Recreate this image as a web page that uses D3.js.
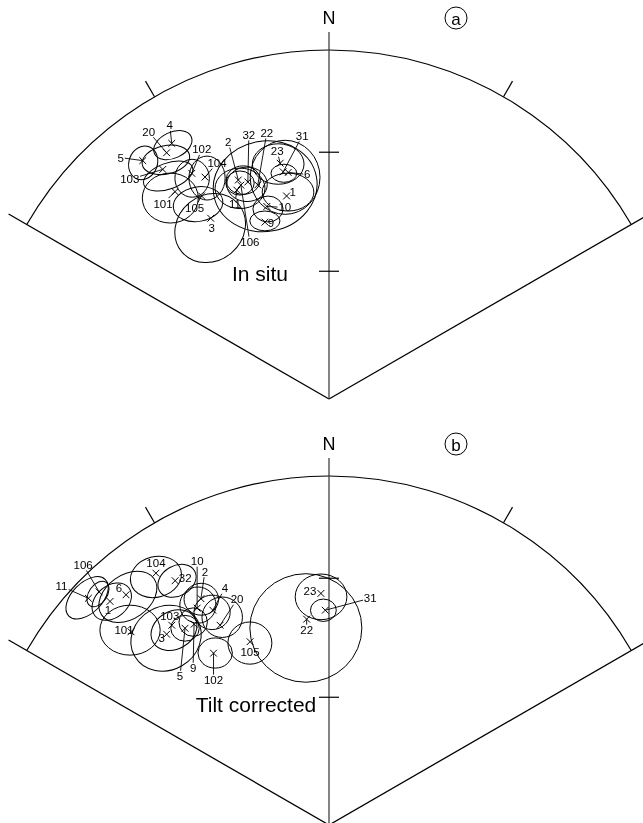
<!DOCTYPE html>
<html>
<head>
<meta charset="utf-8">
<script src="https://cdn.jsdelivr.net/npm/d3@7"></script>
<style>
  body { margin: 0; background: #fff; }
  svg { display: block; font-family: "Liberation Sans", Arial, sans-serif; will-change: transform; }
</style>
</head>
<body>
<div id="chart"></div>
<script>
// site ids (same order in both panels)
const sites = ["1","2","3","4","5","6","9","10","11","20","22","23","31","32","101","102","103","104","105","106"];

// (a) in situ site means: declination / inclination
const decA = [348.2,337.5,326.8,328.4,322.0,349.8,340.1,342.1,336.2,326.6,341.6,348.3,348.6,339.5,323.4,328.7,324.1,330.8,327.9,337.6];
const incA = [40.3,32.6,38.1,15.1,14.4,34.4,45.2,41.6,34.9,16.6,35.6,31.6,34.0,34.0,26.9,25.3,19.9,28.0,31.9,34.1];
// (a) confidence ellipses: centre dec / inc, semi-axes (deg), tilt (deg)
const ellDecA = [348.8,337.6,325.2,328.4,321.8,348.8,340.2,342.2,337.1,325.7,339.1,347.8,348.7,338.6,321.7,328.2,324.2,331.1,326.1,343.3];
const ellIncA = [39.4,33.5,40.1,15.7,15.0,35.5,44.9,42.3,34.8,18.2,34.5,31.7,34.4,33.1,27.5,26.5,22.3,28.5,33.2,36.5];
const ellMajA = [6.0,3.3,8.6,4.7,3.3,8.1,3.5,3.5,5.8,5.6,4.7,6.0,3.0,4.0,6.5,4.0,6.0,4.2,5.8,12.1];
const ellMinA = [4.4,2.8,7.6,3.0,4.0,8.6,2.3,3.0,4.7,3.3,4.0,4.7,2.1,3.3,5.8,4.4,3.0,5.1,4.0,10.5];
const ellTiltA = [0,0,-40,-25,20,0,0,0,0,-12,0,0,0,0,0,0,-20,0,-10,-10];

// (b) tilt corrected site means
const decB = [315.6,330.5,319.6,331.6,323.8,318.6,326.1,328.7,313.3,331.4,353.8,358.0,359.0,327.8,314.3,326.1,321.8,325.5,336.7,315.4];
const incB = [11.3,26.4,29.0,30.7,30.8,13.1,31.3,28.1,5.9,35.1,40.4,34.0,38.4,18.4,21.8,40.4,28.0,13.5,42.3,6.9];
const ellDecB = [315.8,330.5,318.9,331.2,323.8,318.6,326.2,329.2,313.2,332.8,353.3,358.0,358.5,328.1,314.4,326.5,321.5,325.1,336.5,315.0];
const ellIncB = [11.7,26.6,29.7,31.1,30.8,13.9,30.7,27.5,5.5,33.5,42.6,34.9,38.4,18.7,21.3,40.6,29.4,14.4,42.6,7.1];
const ellMajB = [5.1,4.0,8.4,4.2,3.3,7.4,3.3,4.2,6.0,4.7,13.0,6.0,3.0,4.7,7.0,4.0,5.6,6.0,5.1,3.3];
const ellMinB = [3.7,3.7,7.4,4.0,3.0,5.1,3.3,4.2,3.5,4.7,12.6,5.3,2.6,3.5,5.8,3.5,4.4,4.7,4.9,2.1];
const ellTiltB = [-40,0,-30,0,0,-35,0,0,-45,0,0,0,0,-30,0,0,-30,-15,0,-55];

// label placement (pixel offsets from the cross)
const labA = [[6,-4],[-10,-38],[1,10],[-2,-18],[-22,-3],[19,2],[6,1],[18,1],[-2,14],[-18,-21],[9,-52],[-3,-12],[19,-36],[1,-47],[-12,12],[10,-24],[-33,10],[12,-14],[-7,12],[9,57]];
const labB = [[-2,9],[4,-27],[-5,4],[12,-22],[-5,48],[-7,-7],[-1,44],[0,-47],[-27,-12],[17,-26],[0,11],[-11,-2],[45,-12],[10,-3],[-7,-2],[0,27],[-2,-9],[0,-10],[0,10],[-16,-27]];

const incTicks = [30, 60];
const decTicks = [330, 30];

const width = 643, height = 823;
const R = 349, cx = 329;

const svg = d3.select("#chart").append("svg")
    .attr("width", width)
    .attr("height", height);

// equal-area projection
const rScale = d3.scaleLinear().domain([0, 1]).range([0, R]);
const aScale = d3.scaleLinear().domain([0, 360]).range([0, 2 * Math.PI]);
const axisScale = d3.scaleLinear().domain([0, 180]).range([0, R * Math.PI / Math.SQRT2]);
const rad = d => d * Math.PI / 180;
function proj(dec, inc) {
    const r = rScale(Math.SQRT2 * Math.sin(rad(90 - inc) / 2));
    return d3.pointRadial(aScale(dec), r);
}

function drawPanel(cy, letter, title, dec, inc, eDec, eInc, eMaj, eMin, eTilt, lab) {
    const g = svg.append("g").attr("transform", "translate(" + cx + "," + cy + ")");

    // sector frame
    const p = d3.path();
    p.arc(0, 0, R, -Math.PI / 2 - Math.PI / 3, -Math.PI / 2 + Math.PI / 3);
    g.append("path").attr("d", p.toString())
        .attr("fill", "none").attr("stroke", "#000").attr("stroke-width", 1.2);
    [-60, 60].forEach(a => {
        const e = d3.pointRadial(aScale(a), R + 21);
        g.append("line").attr("x1", 0).attr("y1", 0).attr("x2", e[0]).attr("y2", e[1])
            .attr("stroke", "#000").attr("stroke-width", 1.3);
    });
    decTicks.forEach(d => {
        const a = d3.pointRadial(aScale(d), R), b = d3.pointRadial(aScale(d), R + 18);
        g.append("line").attr("x1", a[0]).attr("y1", a[1]).attr("x2", b[0]).attr("y2", b[1])
            .attr("stroke", "#000").attr("stroke-width", 1.2);
    });

    // north axis
    g.append("line").attr("x1", 0).attr("y1", 0).attr("x2", 0).attr("y2", -R - 18)
        .attr("stroke", "#333").attr("stroke-width", 1.2);
    incTicks.forEach(t => {
        const y = proj(0, t)[1];
        g.append("line").attr("x1", -10).attr("x2", 10).attr("y1", y).attr("y2", y)
            .attr("stroke", "#000").attr("stroke-width", 1.2);
    });
    g.append("text").attr("x", 0).attr("y", -R - 32).attr("text-anchor", "middle")
        .attr("dominant-baseline", "central").attr("font-size", 18).text("N");

    // panel letter
    g.append("circle").attr("cx", 127).attr("cy", -R - 32).attr("r", 11)
        .attr("fill", "none").attr("stroke", "#000").attr("stroke-width", 1);
    g.append("text").attr("x", 127).attr("y", -R - 31).attr("text-anchor", "middle")
        .attr("dominant-baseline", "central").attr("font-size", 17).text(letter);

    // title
    g.append("text").attr("x", title.dx).attr("y", title.dy).attr("text-anchor", "middle")
        .attr("font-size", 21).text(title.text);

    // ellipses
    sites.forEach((s, i) => {
        const c = proj(eDec[i], eInc[i]);
        g.append("ellipse")
            .attr("transform", "translate(" + c[0] + "," + c[1] + ") rotate(" + eTilt[i] + ")")
            .attr("rx", axisScale(eMaj[i])).attr("ry", axisScale(eMin[i]))
            .attr("fill", "none").attr("stroke", "#000").attr("stroke-width", 1);
    });

    // crosses, leaders and labels
    sites.forEach((s, i) => {
        const c = proj(dec[i], inc[i]);
        const k = 3.4;
        g.append("path")
            .attr("d", "M" + (c[0] - k) + "," + (c[1] - k) + "L" + (c[0] + k) + "," + (c[1] + k) +
                "M" + (c[0] - k) + "," + (c[1] + k) + "L" + (c[0] + k) + "," + (c[1] - k))
            .attr("stroke", "#000").attr("stroke-width", 1);
        const lx = c[0] + lab[i][0], ly = c[1] + lab[i][1];
        const hw = s.length * 3.1 + 1, hh = 5.5;
        const dx = c[0] - lx, dy = c[1] - ly, len = Math.hypot(dx, dy);
        if (len > 0) {
            const t = Math.min(hw / Math.abs(dx || 1e-6), hh / Math.abs(dy || 1e-6));
            const sx = lx + dx * Math.min(t, 1), sy = ly + dy * Math.min(t, 1);
            if (Math.hypot(c[0] - sx, c[1] - sy) > 5) {
                g.append("line").attr("x1", sx).attr("y1", sy).attr("x2", c[0]).attr("y2", c[1])
                    .attr("stroke", "#000").attr("stroke-width", 0.9);
            }
        }
        g.append("text").attr("x", lx).attr("y", ly).attr("text-anchor", "middle")
            .attr("dominant-baseline", "central").attr("font-size", 11.5)
            .attr("fill", "#000").text(s);
    });
}

drawPanel(399, "a", {text: "In situ", dx: -69, dy: -118},
    decA, incA, ellDecA, ellIncA, ellMajA, ellMinA, ellTiltA, labA);
drawPanel(825, "b", {text: "Tilt corrected", dx: -73, dy: -113},
    decB, incB, ellDecB, ellIncB, ellMajB, ellMinB, ellTiltB, labB);
</script>
</body>
</html>
